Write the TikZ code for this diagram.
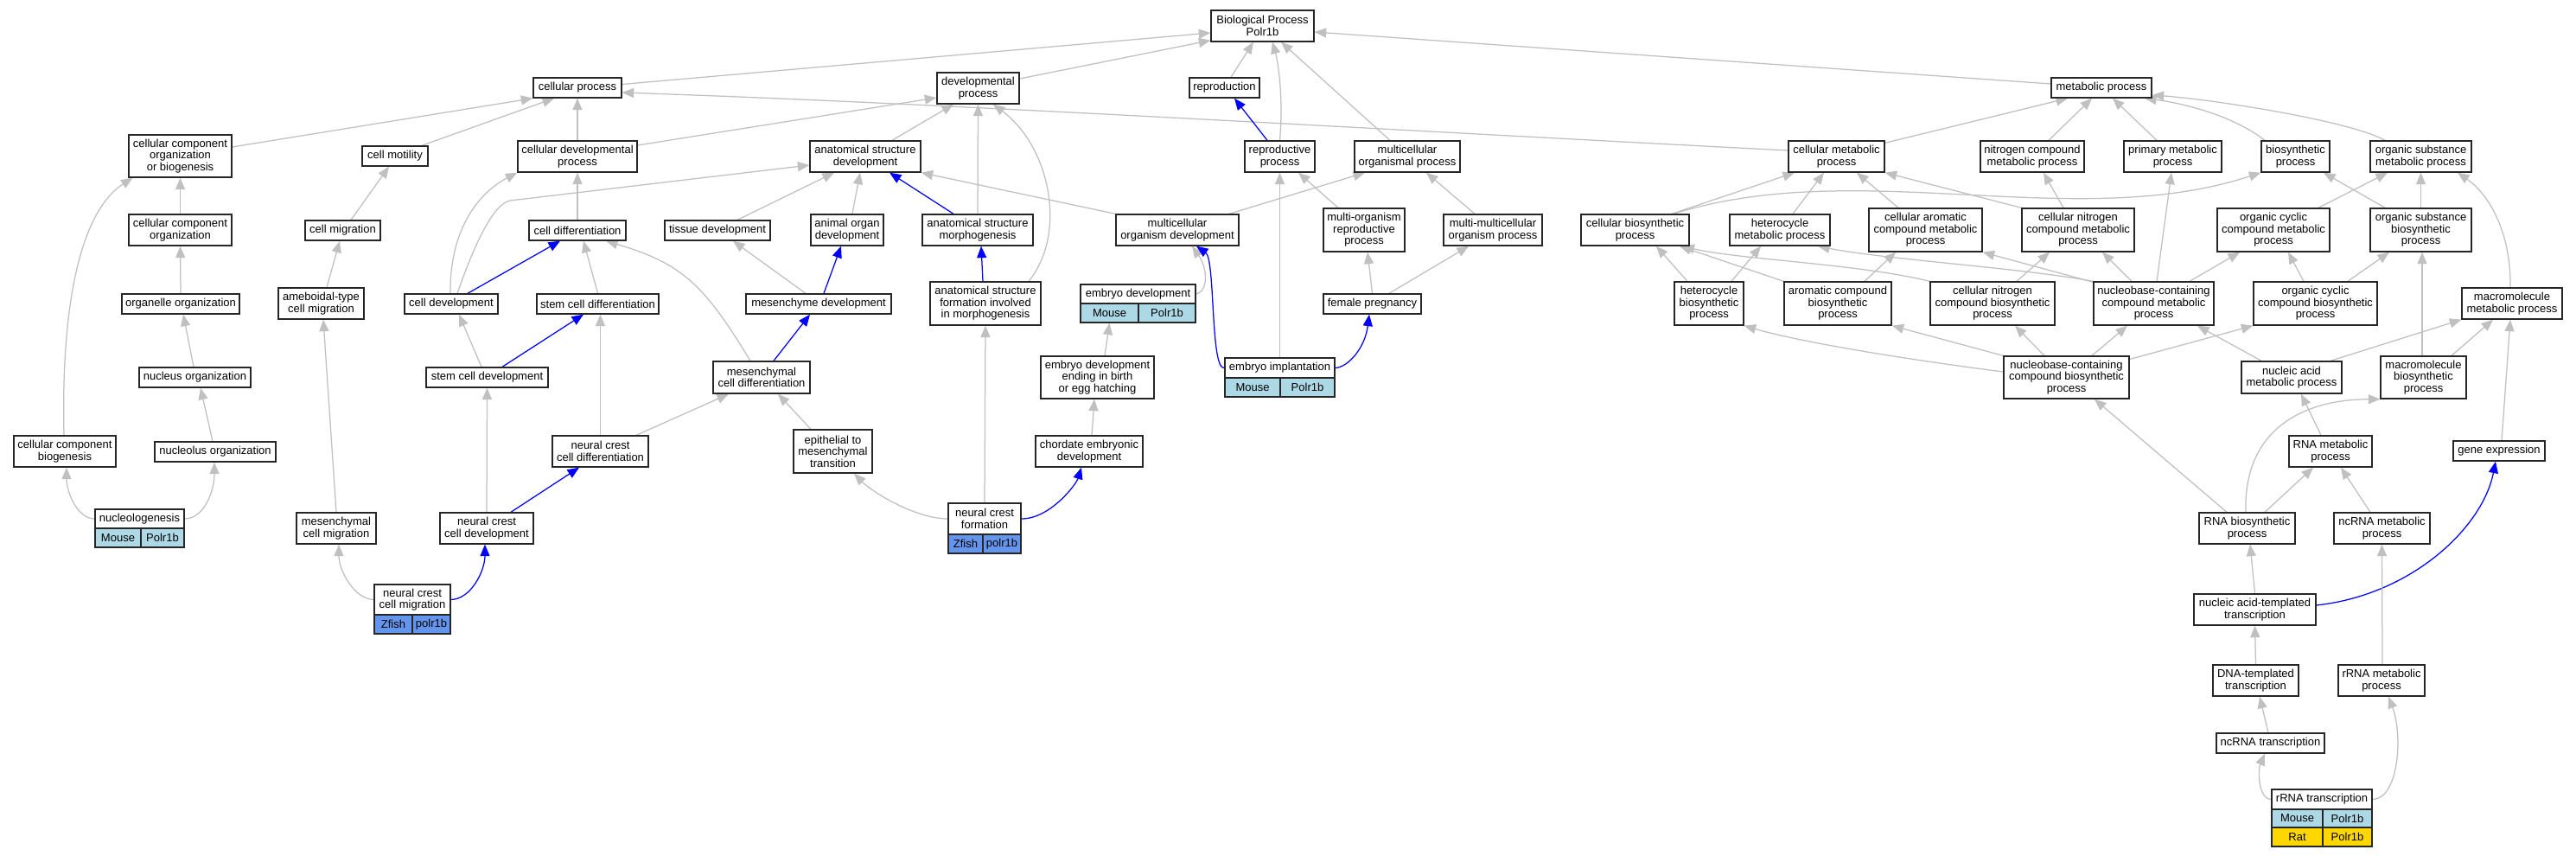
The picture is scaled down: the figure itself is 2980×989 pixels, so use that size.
\documentclass[tikz,border=0pt]{standalone}
\usepackage{fontspec}
\setmainfont{Liberation Sans}
\usetikzlibrary{arrows.meta}
\definecolor{egray}{HTML}{C0C0C0}
\definecolor{eblue}{HTML}{0000FF}
\definecolor{mousec}{HTML}{ADD8E6}
\definecolor{zfishc}{HTML}{6495ED}
\definecolor{ratc}{HTML}{FFD700}
\pgfdeclarelayer{bg}
\pgfsetlayers{bg,main}
\newcommand{\gonode}[6]{\node[gobox, minimum width={#4-#2}, minimum height={#5-#3}] (#1) at ({(#2+#4)/2},{(#3+#5)/2}) {#6};}
\newcommand{\gocell}[7]{\node[gobox, fill=#7, minimum width={#4-#2}, minimum height={#5-#3}] (#1) at ({(#2+#4)/2},{(#3+#5)/2}) {#6};}
\begin{document}
\begin{tikzpicture}[x=1pt,y=-1pt,
  gobox/.style={draw=black!85, line width=1.35pt, fill=white, inner sep=0pt, align=center, font=\fontsize{13pt}{13.5pt}\selectfont},
  ge/.style={draw=egray, line width=1.25pt, -{Triangle[length=13.5pt,width=11pt]}},
  be/.style={ge, draw=eblue}]
\useasboundingbox (0,0) rectangle (2980,989);
% nodes
\gonode{BP}{1401}{12}{1520}{48}{Biological Process\\Polr1b}
\gonode{cellproc}{617}{90}{719}{113}{cellular process}
\gonode{devproc}{1084}{84}{1179}{120}{developmental\\process}
\gonode{repro}{1376}{90}{1457}{113}{reproduction}
\gonode{metab}{2373}{90}{2489}{113}{metabolic process}
\gonode{ccob}{149}{156}{268}{205}{cellular component\\organization\\or biogenesis}
\gonode{motil}{419}{169}{495}{192}{cell motility}
\gonode{celldev}{599}{163}{737}{199}{cellular developmental\\process}
\gonode{asd}{937}{163}{1065}{199}{anatomical structure\\development}
\gonode{reproproc}{1440}{163}{1521}{199}{reproductive\\process}
\gonode{multorg}{1567}{163}{1689}{199}{multicellular\\organismal process}
\gonode{cellmet}{2069}{163}{2180}{199}{cellular metabolic\\process}
\gonode{ncmp}{2291}{163}{2411}{199}{nitrogen compound\\metabolic process}
\gonode{primmet}{2457}{163}{2570}{199}{primary metabolic\\process}
\gonode{biosyn}{2616}{163}{2695}{199}{biosynthetic\\process}
\gonode{osmp}{2742}{163}{2859}{199}{organic substance\\metabolic process}
\gonode{cco}{149}{248}{268}{284}{cellular component\\organization}
\gonode{migr}{353}{255}{440}{278}{cell migration}
\gonode{diff}{612}{255}{724}{278}{cell differentiation}
\gonode{tissue}{769}{255}{891}{278}{tissue development}
\gonode{organ}{938}{248}{1022}{284}{animal organ\\development}
\gonode{asm}{1067}{248}{1195}{284}{anatomical structure\\morphogenesis}
\gonode{mod}{1291}{248}{1433}{284}{multicellular\\organism development}
\gonode{morp}{1531}{241}{1625}{291}{multi-organism\\reproductive\\process}
\gonode{mmop}{1670}{248}{1784}{284}{multi-multicellular\\organism process}
\gonode{cbp}{1829}{248}{1954}{284}{cellular biosynthetic\\process}
\gonode{hmp}{2001}{248}{2117}{284}{heterocycle\\metabolic process}
\gonode{cacmp}{2162}{241}{2293}{291}{cellular aromatic\\compound metabolic\\process}
\gonode{cncmp}{2339}{241}{2469}{291}{cellular nitrogen\\compound metabolic\\process}
\gonode{occmp}{2565}{241}{2695}{291}{organic cyclic\\compound metabolic\\process}
\gonode{osbp}{2742}{241}{2859}{291}{organic substance\\biosynthetic\\process}
\gonode{orgorg}{141}{340}{277}{363}{organelle organization}
\gonode{ameb}{322}{333}{421}{369}{ameboidal-type\\cell migration}
\gonode{cdev}{468}{340}{576}{363}{cell development}
\gonode{scdiff}{621}{340}{762}{363}{stem cell differentiation}
\gonode{mesdev}{863}{340}{1031}{363}{mesenchyme development}
\gonode{asfim}{1076}{326}{1204}{376}{anatomical structure\\formation involved\\in morphogenesis}
\gonode{embdev}{1250}{329}{1383}{351}{embryo development}
\gocell{embdevM}{1250}{351}{1317}{373}{Mouse}{mousec}
\gocell{embdevP}{1317}{351}{1383}{373}{Polr1b}{mousec}
\gonode{femp}{1531}{340}{1644}{363}{female pregnancy}
\gonode{hbp}{1937}{326}{2017}{376}{heterocycle\\biosynthetic\\process}
\gonode{acbp}{2064}{326}{2188}{376}{aromatic compound\\biosynthetic\\process}
\gonode{cncbp}{2233}{326}{2377}{376}{cellular nitrogen\\compound biosynthetic\\process}
\gonode{nccmp}{2422}{326}{2561}{376}{nucleobase-containing\\compound metabolic\\process}
\gonode{occbp}{2607}{326}{2750}{376}{organic cyclic\\compound biosynthetic\\process}
\gonode{mmp}{2848}{333}{2964}{369}{macromolecule\\metabolic process}
\gonode{nucorg}{161}{425}{290}{448}{nucleus organization}
\gonode{scdev}{493}{425}{634}{448}{stem cell development}
\gonode{mcd}{825}{418}{937}{455}{mesenchymal\\cell differentiation}
\gonode{edeb}{1204}{412}{1335}{461}{embryo development\\ending in birth\\or egg hatching}
\gonode{impl}{1417}{414}{1544}{437}{embryo implantation}
\gocell{implM}{1417}{437}{1481}{459}{Mouse}{mousec}
\gocell{implP}{1481}{437}{1544}{459}{Polr1b}{mousec}
\gonode{nccbp}{2318}{412}{2463}{461}{nucleobase-containing\\compound biosynthetic\\process}
\gonode{namp}{2593}{418}{2709}{455}{nucleic acid\\metabolic process}
\gonode{mbp}{2754}{412}{2853}{461}{macromolecule\\biosynthetic\\process}
\gonode{ccb}{16}{504}{134}{540}{cellular component\\biogenesis}
\gonode{nucleolus}{179}{511}{319}{534}{nucleolus organization}
\gonode{ncdiff}{639}{504}{750}{540}{neural crest\\cell differentiation}
\gonode{emt}{918}{497}{1009}{547}{epithelial to\\mesenchymal\\transition}
\gonode{ced}{1198}{504}{1322}{540}{chordate embryonic\\development}
\gonode{rnamp}{2648}{504}{2744}{540}{RNA metabolic\\process}
\gonode{geneexp}{2838}{510}{2944}{533}{gene expression}
\gonode{nucleolog}{110}{589}{213}{611}{nucleologenesis}
\gocell{nucleologM}{110}{611}{163}{633}{Mouse}{mousec}
\gocell{nucleologP}{163}{611}{213}{633}{Polr1b}{mousec}
\gonode{mcm}{343}{593}{435}{629}{mesenchymal\\cell migration}
\gonode{nccd}{509}{593}{617}{629}{neural crest\\cell development}
\gonode{ncf}{1097}{582}{1181}{618}{neural crest\\formation}
\gocell{ncfZ}{1097}{618}{1137}{640}{Zfish}{zfishc}
\gocell{ncfP}{1137}{618}{1181}{640}{polr1b}{zfishc}
\gonode{rnabp}{2544}{593}{2655}{629}{RNA biosynthetic\\process}
\gonode{ncrnamp}{2700}{593}{2811}{629}{ncRNA metabolic\\process}
\gonode{nccm}{433}{676}{521}{711}{neural crest\\cell migration}
\gocell{nccmZ}{433}{711}{477}{733}{Zfish}{zfishc}
\gocell{nccmP}{477}{711}{521}{733}{polr1b}{zfishc}
\gonode{natt}{2538}{687}{2679}{723}{nucleic acid-templated\\transcription}
\gonode{dnatt}{2560}{769}{2659}{805}{DNA-templated\\transcription}
\gonode{rrnamp}{2705}{769}{2805}{805}{rRNA metabolic\\process}
\gonode{ncrnat}{2564}{848}{2689}{871}{ncRNA transcription}
\gonode{rrnat}{2628}{913}{2744}{936}{rRNA transcription}
\gocell{rrnatM}{2628}{936}{2687}{957}{Mouse}{mousec}
\gocell{rrnatP}{2687}{936}{2744}{957}{Polr1b}{mousec}
\gocell{rrnatR}{2628}{957}{2687}{979}{Rat}{ratc}
\gocell{rrnatQ}{2687}{957}{2744}{979}{Polr1b}{ratc}
\coordinate (bendA) at (590,232);
\begin{pgfonlayer}{bg}
\fill[white] (0,0) rectangle (2980,989);
% to BP
\draw[ge] ([yshift=4pt]cellproc.east) -- ([yshift=-8pt]BP.west);
\draw[ge] ([yshift=11pt]devproc.east) -- ([yshift=2pt]BP.south west);
\draw[ge] ([xshift=7.5pt]repro.north) -- ([xshift=-10.5pt]BP.south);
\draw[ge] (reproproc.north) .. controls (1485,110) and (1478,70) .. ([xshift=11.5pt]BP.south);
\draw[ge] ([xshift=-20pt]multorg.north) -- ([xshift=21.5pt]BP.south);
\draw[ge] ([yshift=4.5pt]metab.west) -- ([yshift=-7pt]BP.east);
% to cellular process
\draw[ge] ([yshift=10.5pt]ccob.east) -- (cellproc.south west);
\draw[ge] ([xshift=31pt]motil.north) -- ([xshift=-27pt]cellproc.south);
\draw[ge] (celldev.north) -- (cellproc.south);
\draw[ge] ([yshift=7pt]cellmet.west) .. controls (1600,150) and (1100,120) .. ([yshift=-5.5pt]cellproc.east);
% to developmental process
\draw[ge] ([yshift=13pt]celldev.east) -- ([yshift=-11pt]devproc.west);
\draw[ge] ([xshift=31pt]asd.north) -- ([xshift=-28.5pt]devproc.south);
\draw[ge] (asm.north) -- (devproc.south);
\draw[ge] ([xshift=50pt]asfim.north) .. controls (1235,270) and (1215,170) .. ([xshift=17.5pt]devproc.south);
% to reproduction
\draw[be] ([xshift=-14.5pt]reproproc.north) -- ([xshift=11.5pt]repro.south);
% to metabolic process
\draw[ge] ([yshift=-3pt]cellmet.north east) -- ([xshift=-39pt]metab.south);
\draw[ge] ([xshift=19pt]ncmp.north) -- ([xshift=-11pt]metab.south);
\draw[ge] ([xshift=-18.5pt]primmet.north) -- ([xshift=13pt]metab.south);
\draw[ge] ([xshift=-35.5pt]biosyn.north) .. controls (2585,135) and (2530,120) .. ([xshift=50pt]metab.south);
\draw[ge] ([xshift=-41.5pt]osmp.north) .. controls (2720,140) and (2560,115) .. ([yshift=-8.5pt]metab.east);
% left column
\draw[ge] (cco.north) -- (ccob.south);
\draw[ge] ([xshift=-1pt]ccb.north) .. controls (70,330) and (100,240) .. ([xshift=-55pt]ccob.south);
\draw[ge] ([xshift=9.5pt]migr.north) -- ([xshift=-7pt]motil.south);
\draw[ge] (diff.north) -- (celldev.south);
\draw[ge] ([xshift=-1pt]cdev.north) .. controls (520,270) and (550,225) .. (celldev.south west);
\draw[ge] ([xshift=7pt]cdev.north) .. controls (548,285) and (570,236) .. (bendA) -- ([yshift=-10pt]asd.west);
\draw[ge] ([xshift=23pt]tissue.north) -- ([xshift=-36pt]asd.south);
\draw[ge] ([xshift=6pt]organ.north) -- ([xshift=-6pt]asd.south);
\draw[be] ([xshift=-28pt]asm.north) -- ([xshift=28pt]asd.south);
\draw[ge] (mod.north west) -- (asd.south east);
\draw[ge] ([xshift=60pt]mod.north) -- ([xshift=-49pt]multorg.south);
\draw[ge] ([xshift=-21pt]mmop.north) -- ([xshift=22pt]multorg.south);
\draw[ge] (impl.north) -- (reproproc.south);
\draw[ge] ([xshift=-30pt]morp.north) -- ([xshift=21.5pt]reproproc.south);
% to cellular metabolic process
\draw[ge] ([xshift=42.5pt]cbp.north) -- ([xshift=-48.5pt]cellmet.south);
\draw[ge] ([xshift=15pt]hmp.north) -- ([xshift=-14.5pt]cellmet.south);
\draw[ge] ([xshift=-31.5pt]cacmp.north) -- ([xshift=23.5pt]cellmet.south);
\draw[ge] (cncmp.north west) -- (cellmet.south east);
\draw[ge] ([xshift=-17pt]cncmp.north) -- ([xshift=13pt]ncmp.south);
\draw[ge] ([xshift=3.5pt]nccmp.north) -- ([xshift=-1.5pt]primmet.south);
\draw[ge] ([xshift=44.5pt]cbp.north) .. controls (2150,180) and (2400,270) .. (biosyn.south west);
\draw[ge] ([xshift=-41.5pt]osbp.north) -- ([xshift=32.5pt]biosyn.south);
\draw[ge] ([xshift=52pt]occmp.north) -- ([xshift=-38.5pt]osmp.south);
\draw[ge] (osbp.north) -- (osmp.south);
\draw[ge] ([xshift=-2pt]mmp.north) .. controls (2905,270) and (2880,225) .. ([xshift=42.5pt]osmp.south);
% middle-left
\draw[ge] (orgorg.north) -- (cco.south);
\draw[ge] ([xshift=6.5pt]ameb.north) -- ([xshift=-3.5pt]migr.south);
\draw[be] ([xshift=19pt]cdev.north) -- ([xshift=-20pt]diff.south);
\draw[ge] (scdiff.north) -- ([xshift=7pt]diff.south);
\draw[ge] ([xshift=-13pt]mcd.north) .. controls (815,330) and (790,305) .. ([xshift=33pt]diff.south);
\draw[ge] ([xshift=-15pt]mesdev.north) -- ([xshift=18pt]tissue.south);
\draw[be] ([xshift=6pt]mesdev.north) -- ([xshift=-7pt]organ.south);
\draw[be] ([xshift=-3pt]asfim.north) -- ([xshift=4pt]asm.south);
\draw[ge] (embdev.east) .. controls (1398,337) and (1397,310) .. ([xshift=17pt]mod.south);
\draw[be] (impl.west) .. controls (1400,428) and (1406,300) .. ([xshift=22pt]mod.south);
\draw[be] (impl.east) .. controls (1559,425) and (1579,403) .. ([xshift=-3.5pt]femp.south);
\draw[ge] (femp.north) -- ([xshift=4pt]morp.south);
\draw[ge] ([xshift=19.5pt]femp.north) -- ([xshift=-28pt]mmop.south);
% heterocycle etc.
\draw[ge] ([xshift=26pt]hbp.north) -- ([xshift=-22pt]hmp.south);
\draw[ge] (nccmp.north west) .. controls (2340,310) and (2180,300) .. ([xshift=44pt]hmp.south);
\draw[ge] ([xshift=-25pt]hbp.north) -- ([xshift=24.5pt]cbp.south);
\draw[ge] (acbp.north west) -- ([xshift=51.5pt]cbp.south);
\draw[ge] (cncbp.north west) .. controls (2150,305) and (2010,300) .. ([xshift=55pt]cbp.south);
\draw[ge] ([xshift=31pt]acbp.north) -- ([xshift=-34.5pt]cacmp.south);
\draw[ge] ([yshift=-1pt]nccmp.north west) -- (cacmp.south east);
\draw[ge] ([xshift=28pt]cncbp.north) -- ([xshift=-33pt]cncmp.south);
\draw[ge] ([xshift=-25.5pt]nccmp.north) -- ([xshift=28pt]cncmp.south);
\draw[ge] ([xshift=41.5pt]nccmp.north) -- ([xshift=-39pt]occmp.south);
\draw[ge] ([xshift=-13.5pt]occbp.north) -- ([xshift=17pt]occmp.south);
\draw[ge] ([xshift=37.5pt]occbp.north) -- ([xshift=-36.5pt]osbp.south);
\draw[ge] ([xshift=-1.5pt]mbp.north) -- ([xshift=1.5pt]osbp.south);
% left lower
\draw[ge] ([xshift=-1.5pt]nucorg.north) -- ([xshift=3pt]orgorg.south);
\draw[ge] ([xshift=-3pt]nucleolus.north) -- ([xshift=6.5pt]nucorg.south);
\draw[ge] ([xshift=-6.5pt]scdev.north) -- ([xshift=9pt]cdev.south);
\draw[be] ([xshift=17.5pt]scdev.north) -- ([xshift=-16.5pt]scdiff.south);
\draw[ge] (ncdiff.north) -- ([xshift=3pt]scdiff.south);
\draw[ge] ([xshift=41.5pt]ncdiff.north) -- ([xshift=-38pt]mcd.south);
\draw[be] ([xshift=14pt]mcd.north) -- ([xshift=-10pt]mesdev.south);
\draw[ge] ([xshift=-25.5pt]emt.north) -- ([xshift=19pt]mcd.south);
\draw[ge] ([xshift=8.5pt]edeb.north) -- (embdevM.south);
\draw[ge] ([xshift=3pt]ced.north) -- ([xshift=-3.5pt]edeb.south);
\draw[ge] (nccd.north) -- (scdev.south);
\draw[be] ([xshift=28pt]nccd.north) -- ([xshift=-24.5pt]ncdiff.south);
\draw[ge] (mcm.north) -- ([xshift=2.5pt]ameb.south);
\draw[ge] (nucleolog.west) .. controls (90,600) and (77,570) .. ([xshift=2pt]ccb.south);
\draw[ge] (nucleolog.east) .. controls (235,600) and (248,570) .. ([xshift=-1pt]nucleolus.south);
\draw[ge] (nccm.west) .. controls (410,693) and (392,660) .. ([xshift=3pt]mcm.south);
\draw[be] (nccm.east) .. controls (545,693) and (561,660) .. ([xshift=-2pt]nccd.south);
\draw[ge] (ncf.west) .. controls (1060,600) and (1010,570) .. ([xshift=24.5pt]emt.south);
\draw[ge] (ncf.north) -- (asfim.south);
\draw[be] (ncf.east) .. controls (1215,600) and (1245,560) .. ([xshift=-9pt]ced.south);
% right lower
\draw[ge] ([yshift=6.5pt]nccbp.west) .. controls (2200,415) and (2080,395) .. (hbp.south east);
\draw[ge] (nccbp.north west) -- (acbp.south east);
\draw[ge] ([xshift=-25.5pt]nccbp.north) -- ([xshift=26pt]cncbp.south);
\draw[ge] ([xshift=29.5pt]nccbp.north) -- ([xshift=-30.5pt]nccmp.south);
\draw[ge] ([yshift=21pt]nccbp.east) -- (occbp.south west);
\draw[ge] ([xshift=-35pt]namp.north) -- ([xshift=50.5pt]nccmp.south);
\draw[ge] ([xshift=45pt]namp.north) -- (mmp.south west);
\draw[ge] ([xshift=32.5pt]mbp.north) -- ([xshift=-22pt]mmp.south);
\draw[ge] ([xshift=3pt]geneexp.north) -- ([xshift=-2pt]mmp.south);
\draw[ge] ([xshift=-11pt]rnamp.north) -- ([xshift=11pt]namp.south);
\draw[ge] ([xshift=-23.5pt]rnabp.north) -- ([xshift=32.5pt]nccbp.south);
\draw[ge] ([xshift=-1.5pt]rnabp.north) .. controls (2595,500) and (2660,462) .. (mbp.south west);
\draw[ge] ([xshift=20.5pt]rnabp.north) -- ([xshift=-20pt]rnamp.south);
\draw[ge] ([xshift=-13.5pt]ncrnamp.north) -- ([xshift=12pt]rnamp.south);
\draw[ge] (natt.north) -- ([xshift=3.5pt]rnabp.south);
\draw[be] ([yshift=5pt]natt.east) .. controls (2790,688) and (2872,610) .. ([xshift=-4pt]geneexp.south);
\draw[ge] (dnatt.north) -- (natt.south);
\draw[ge] ([xshift=1pt]rrnamp.north) -- (ncrnamp.south);
\draw[ge] ([xshift=-2.5pt]ncrnat.north) -- ([xshift=4.5pt]dnatt.south);
\draw[ge] (rrnat.west) .. controls (2612,924) and (2612,890) .. ([xshift=-6.5pt]ncrnat.south);
\draw[ge] (rrnat.east) .. controls (2775,924) and (2780,850) .. ([xshift=8pt]rrnamp.south);
\end{pgfonlayer}
\end{tikzpicture}
\end{document}
